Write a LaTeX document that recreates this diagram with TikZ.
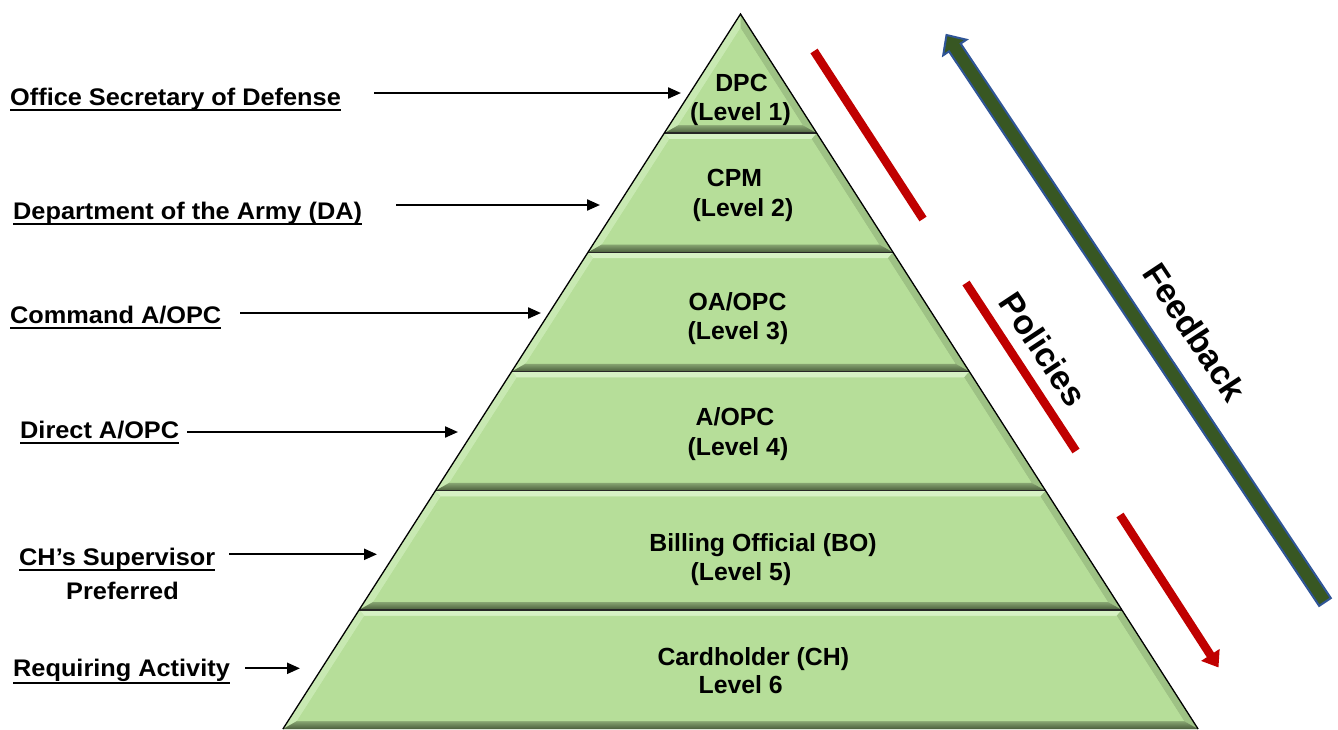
\documentclass[tikz,border=0pt]{standalone}
\usepackage{fontspec}
\setmainfont{Liberation Sans}
\newfontfamily\lblfont[FakeStretch=1.055]{Liberation Sans}
\usetikzlibrary{arrows.meta,calc}
\definecolor{pyrMain}{RGB}{182,222,153}
\definecolor{pyrLight}{RGB}{214,241,196}
\definecolor{pyrLeft}{RGB}{200,233,178}
\definecolor{pyrRight}{RGB}{158,194,133}
\definecolor{pyrDark}{RGB}{74,94,60}
\definecolor{polRed}{RGB}{192,0,0}
\definecolor{fbGreen}{RGB}{56,87,35}
\definecolor{fbBlue}{RGB}{47,85,151}
\begin{document}
\begin{tikzpicture}[x=1pt,y=-1pt,
  lbl/.style={font=\lblfont\fontsize{24}{28}\selectfont\bfseries, inner sep=0pt, anchor=base west},
  ptxt/.style={font=\fontsize{24.8}{28}\selectfont\bfseries, inner sep=0pt, anchor=base},
  sidetxt/.style={font=\fontsize{34}{40}\selectfont\bfseries, inner sep=0pt, rotate=-56.5},
  ptr/.style={line width=2.2pt, -{Triangle[length=13pt,width=11pt]}},
  uline/.style={line width=2pt},
  redbar/.style={draw=polRed, line width=8.5pt},
]
\useasboundingbox (0,0) rectangle (1338,729);

% ---------- pyramid layers ----------
\foreach \i in {0,...,5}{
  \pgfmathsetmacro\yT{14+\i*119.1667}
  \pgfmathsetmacro\yB{\yT+119.1667}
  \pgfmathsetmacro\yTi{\i==0 ? 28.1 : \yT+6}
  \pgfmathsetmacro\yBi{\yB-8}
  \pgfmathsetmacro\xLT{740.5-0.64*(\yT-14)}
  \pgfmathsetmacro\xRT{740.5+0.64*(\yT-14)}
  \pgfmathsetmacro\xLB{740.5-0.64*(\yB-14)}
  \pgfmathsetmacro\xRB{740.5+0.64*(\yB-14)}
  \pgfmathsetmacro\xLTi{740.5-0.64*(\yTi-14)+9}
  \pgfmathsetmacro\xRTi{740.5+0.64*(\yTi-14)-9}
  \pgfmathsetmacro\xLBi{740.5-0.64*(\yBi-14)+9}
  \pgfmathsetmacro\xRBi{740.5+0.64*(\yBi-14)-9}
  \fill[pyrMain] (\xLT,\yT) -- (\xRT,\yT) -- (\xRB,\yB) -- (\xLB,\yB) -- cycle;
  \fill[pyrLight] (\xLT,\yT) -- (\xRT,\yT) -- (\xRTi,\yTi) -- (\xLTi,\yTi) -- cycle;
  \fill[pyrLeft] (\xLT,\yT) -- (\xLTi,\yTi) -- (\xLBi,\yBi) -- (\xLB,\yB) -- cycle;
  \fill[pyrRight] (\xRT,\yT) -- (\xRB,\yB) -- (\xRBi,\yBi) -- (\xRTi,\yTi) -- cycle;
  \shade[top color=pyrMain!75!black, bottom color=pyrDark]
    (\xLB,\yB) -- (\xLBi,\yBi) -- (\xRBi,\yBi) -- (\xRB,\yB) -- cycle;
  \fill[pyrMain] (\xLTi,\yTi) -- (\xRTi,\yTi) -- (\xRBi,\yBi) -- (\xLBi,\yBi) -- cycle;
}
\foreach \i in {1,...,5}{
  \pgfmathsetmacro\yS{14+\i*119.1667}
  \pgfmathsetmacro\xLS{740.5-0.64*(\yS-14)}
  \pgfmathsetmacro\xRS{740.5+0.64*(\yS-14)}
  \draw[line width=1.6pt, black!85] (\xLS,\yS) -- (\xRS,\yS);
}
\draw[line width=1.3pt, line join=miter] (282.9,729) -- (740.5,14) -- (1198.1,729);

% ---------- pyramid texts ----------
\node[ptxt] (l1a) at (741.5,91.7) {DPC};
\node[ptxt] (l1b) at (740.5,120) {(Level 1)};
\node[ptxt] (l2a) at (734.5,186.7) {CPM};
\node[ptxt] (l2b) at (743,216.5) {(Level 2)};
\node[ptxt] (l3a) at (737.5,310) {OA/OPC};
\node[ptxt] (l3b) at (738,339.5) {(Level 3)};
\node[ptxt] (l4a) at (735,425.5) {A/OPC};
\node[ptxt] (l4b) at (738,455) {(Level 4)};
\node[ptxt] (l5a) at (763,551.7) {Billing Official (BO)};
\node[ptxt] (l5b) at (741,580.5) {(Level 5)};
\node[ptxt] (l6a) at (753.3,665) {Cardholder (CH)};
\node[ptxt] (l6b) at (740.7,693.3) {Level 6};

% ---------- left labels ----------
\node[lbl] (osd) at (10,105.7) {Office Secretary of Defense};
\node[lbl] (da) at (13,219) {Department of the Army (DA)};
\node[lbl] (cmd) at (10,323) {Command A/OPC};
\node[lbl] (dir) at (20,438) {Direct A/OPC};
\node[lbl] (sup) at (19,565.5) {CH’s Supervisor};
\node[lbl, anchor=base] (pref) at (122.5,599) {Preferred};
\node[lbl] (req) at (13,676.7) {Requiring Activity};
\foreach \n/\d in {osd/4.5,da/4.5,cmd/5,dir/5,sup/4.5,req/6}{
  \draw[uline] ($(\n.base west)+(0,\d)$) -- ($(\n.base east)+(0,\d)$);
}

\coordinate (osdS) at (374,93);   \coordinate (osdT) at (681,93);
\coordinate (daS)  at (396,205);  \coordinate (daT)  at (600,205);
\coordinate (cmdS) at (240,313);  \coordinate (cmdT) at (541,313);
\coordinate (dirS) at (187,432);  \coordinate (dirT) at (458,432);
\coordinate (supS) at (229,554.3);\coordinate (supT) at (377,554.3);
\coordinate (reqS) at (245,668.3);\coordinate (reqT) at (300,668.3);
\foreach \n in {osd,da,cmd,dir,sup,req}{
  \draw[ptr] (\n S) -- (\n T);
}

% ---------- policies (red) ----------
\coordinate (r1a) at (814,51);   \coordinate (r1b) at (923,219);
\coordinate (r2a) at (966,283);  \coordinate (r2b) at (1076,451);
\coordinate (r3a) at (1120,515); \coordinate (r3b) at (1218.5,667.5);
\draw[redbar] (r1a) -- (r1b);
\draw[redbar] (r2a) -- (r2b);
\draw[redbar, -{Triangle[length=15pt,width=21pt]}] (r3a) -- (r3b);
\node[sidetxt] (pol) at (1043.5,349) {Policies};

% ---------- feedback arrow ----------
\coordinate (fbTail) at (1325,602);
\coordinate (fbTip) at (946.5,35);
\coordinate (fbH) at ($(fbTip)!15pt!(fbTail)$);
\filldraw[fill=fbGreen, draw=fbBlue, line width=2pt, line join=miter]
  ($(fbTail)!7pt!90:(fbTip)$) -- ($(fbH)!7pt!90:(fbTip)$) -- ($(fbH)!14pt!90:(fbTip)$)
  -- (fbTip) -- ($(fbH)!14pt!-90:(fbTip)$) -- ($(fbH)!7pt!-90:(fbTip)$)
  -- ($(fbTail)!7pt!-90:(fbTip)$) -- cycle;
\node[sidetxt] (fb) at (1195,332) {Feedback};
\end{tikzpicture}
\end{document}
